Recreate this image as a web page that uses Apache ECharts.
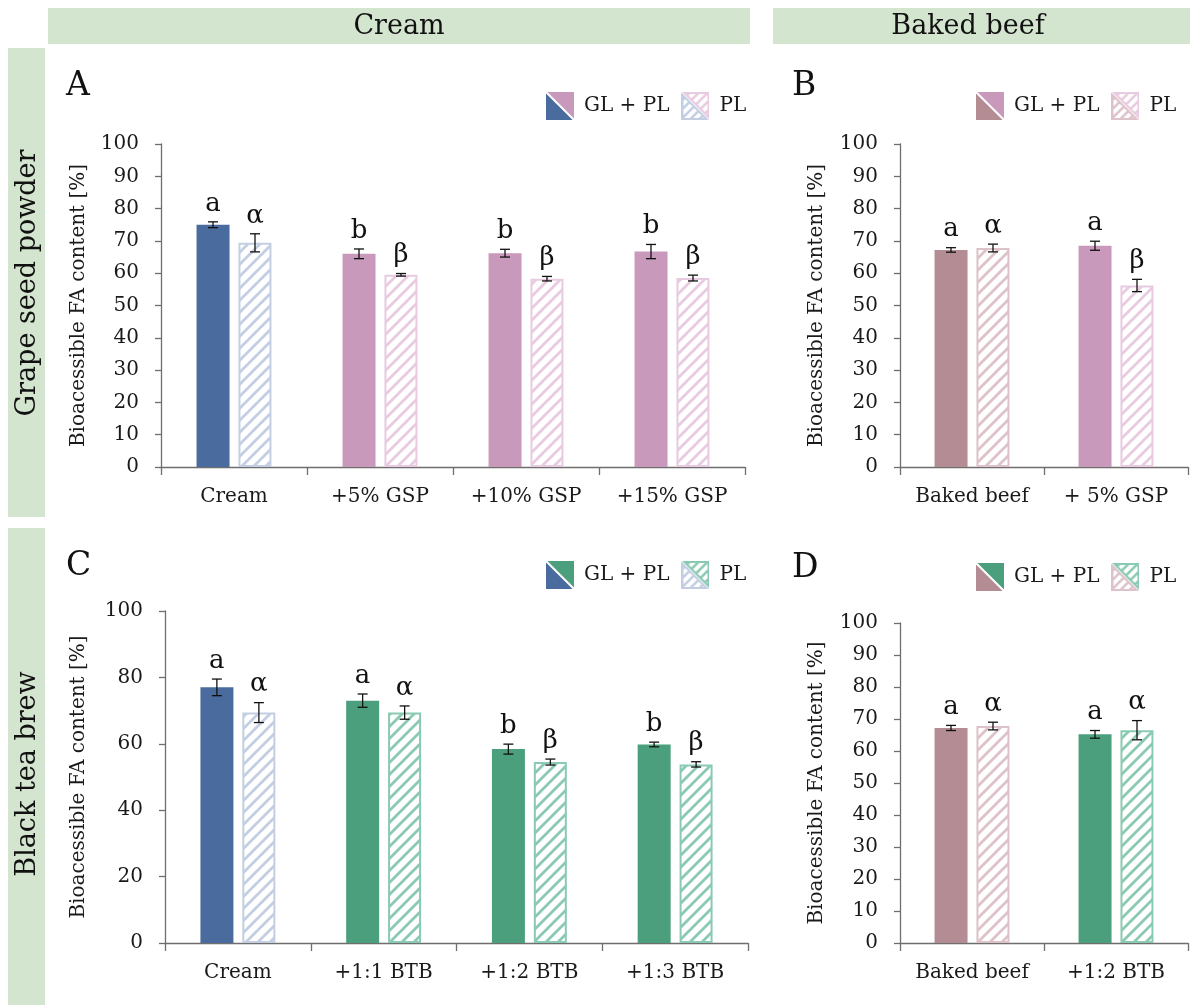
<!DOCTYPE html>
<html><head><meta charset="utf-8">
<script src="https://cdn.jsdelivr.net/npm/echarts@6/dist/echarts.min.js"></script>
<style>html,body{margin:0;padding:0;background:#fff}#c{width:1190px;height:1005px}</style>
</head><body><div id="c"></div>
<script>
// ---------- DATA ----------
const catsA = ['Cream', '+5% GSP', '+10% GSP', '+15% GSP'];
const glA = [75.0, 66.0, 66.2, 66.7];
const glErrA = [0.9, 1.5, 1.2, 2.2];
const plA = [69.4, 59.5, 58.3, 58.5];
const plErrA = [2.8, 0.4, 0.7, 0.9];
const glLetA = ['a', 'b', 'b', 'b'];
const plLetA = ['α', 'β', 'β', 'β'];

const catsB = ['Baked beef', '+ 5% GSP'];
const glB = [67.2, 68.5];
const glErrB = [0.7, 1.4];
const plB = [67.8, 56.2];
const plErrB = [1.2, 1.9];
const glLetB = ['a', 'a'];
const plLetB = ['α', 'β'];

const catsC = ['Cream', '+1:1 BTB', '+1:2 BTB', '+1:3 BTB'];
const glC = [77.0, 73.0, 58.4, 59.8];
const glErrC = [2.5, 2.0, 1.5, 0.7];
const plC = [69.4, 69.4, 54.5, 53.8];
const plErrC = [3.0, 2.0, 0.9, 0.8];
const glLetC = ['a', 'a', 'b', 'b'];
const plLetC = ['α', 'α', 'β', 'β'];

const catsD = ['Baked beef', '+1:2 BTB'];
const glD = [67.2, 65.2];
const glErrD = [0.8, 1.2];
const plD = [67.8, 66.5];
const plErrD = [1.2, 3.0];
const glLetD = ['a', 'a'];
const plLetD = ['α', 'α'];

const yTicksAB = [0, 10, 20, 30, 40, 50, 60, 70, 80, 90, 100];
const yTicksC = [0, 20, 40, 60, 80, 100];

// ---------- STYLE ----------
const FONT = 'DejaVu Serif';
const PAL = {
  blue: ['#4A6B9D', '#C3CEE3'],
  pink: ['#C899BB', '#E8CBE0'],
  mauve: ['#B38C94', '#DDC2C9'],
  green: ['#4C9F7D', '#8ACAB2']
};
const colA = ['blue', 'pink', 'pink', 'pink'];
const colB = ['mauve', 'pink'];
const colC = ['blue', 'green', 'green', 'green'];
const colD = ['mauve', 'green'];

function hatchCanvas(color, size, lw) {
  const s = size || 12, cv = document.createElement('canvas');
  cv.width = s; cv.height = s;
  const g = cv.getContext('2d');
  g.fillStyle = '#fff'; g.fillRect(0, 0, s, s);
  g.strokeStyle = color; g.lineWidth = lw || 2.8;
  g.beginPath();
  g.moveTo(0, s); g.lineTo(s, 0);
  g.moveTo(-s / 2, s / 2); g.lineTo(s / 2, -s / 2);
  g.moveTo(s / 2, s * 1.5); g.lineTo(s * 1.5, s / 2);
  g.stroke();
  return cv;
}
function iconSolid(cBL, cTR) {
  const s = 28, cv = document.createElement('canvas');
  cv.width = s; cv.height = s;
  const g = cv.getContext('2d');
  g.fillStyle = cBL; g.beginPath(); g.moveTo(0, 0); g.lineTo(0, s); g.lineTo(s, s); g.closePath(); g.fill();
  g.fillStyle = cTR; g.beginPath(); g.moveTo(0, 0); g.lineTo(s, 0); g.lineTo(s, s); g.closePath(); g.fill();
  g.strokeStyle = '#fff'; g.lineWidth = 2; g.beginPath(); g.moveTo(0, 0); g.lineTo(s, s); g.stroke();
  return 'image://' + cv.toDataURL();
}
function iconHatch(cBL, cTR) {
  const s = 28, cv = document.createElement('canvas');
  cv.width = s; cv.height = s;
  const g = cv.getContext('2d');
  function tri(pts, c) {
    g.save();
    g.beginPath(); g.moveTo(pts[0][0], pts[0][1]); g.lineTo(pts[1][0], pts[1][1]); g.lineTo(pts[2][0], pts[2][1]); g.closePath();
    g.fillStyle = g.createPattern(hatchCanvas(c, 9, 2.5), 'repeat'); g.fill();
    g.strokeStyle = c; g.lineWidth = 2; g.stroke();
    g.restore();
  }
  tri([[1, 3], [1, s - 1], [s - 3, s - 1]], cBL);
  tri([[3, 1], [s - 1, 1], [s - 1, s - 3]], cTR);
  return 'image://' + cv.toDataURL();
}

const grids = [
  { left: 161, top: 144, width: 584, height: 323 },
  { left: 900, top: 144, width: 288, height: 323 },
  { left: 165, top: 611, width: 583, height: 332 },
  { left: 900, top: 623, width: 288, height: 320 }
];
const panels = [
  { cats: catsA, gl: glA, glE: glErrA, pl: plA, plE: plErrA, gL: glLetA, pL: plLetA, col: colA, ticks: yTicksAB, gap: 72 },
  { cats: catsB, gl: glB, glE: glErrB, pl: plB, plE: plErrB, gL: glLetB, pL: plLetB, col: colB, ticks: yTicksAB, gap: 73 },
  { cats: catsC, gl: glC, glE: glErrC, pl: plC, plE: plErrC, gL: glLetC, pL: plLetC, col: colC, ticks: yTicksC, gap: 76 },
  { cats: catsD, gl: glD, glE: glErrD, pl: plD, plE: plErrD, gL: glLetD, pL: plLetD, col: colD, ticks: yTicksAB, gap: 73 }
];

const BAR_W = 33, OFF = 21;
const xAxes = [], yAxes = [], series = [];
panels.forEach((p, i) => {
  xAxes.push({
    type: 'category', gridIndex: i, data: p.cats, boundaryGap: true,
    axisLine: { lineStyle: { color: '#6e6e6e', width: 1.3 } },
    axisTick: { show: true, length: 8, inside: false, lineStyle: { color: '#6e6e6e', width: 1.3 } },
    axisLabel: { interval: 0, fontFamily: FONT, fontSize: 20, color: '#1a1a1a', margin: 20 }
  });
  const step = p.ticks[1] - p.ticks[0];
  yAxes.push({
    type: 'value', gridIndex: i, min: p.ticks[0], max: p.ticks[p.ticks.length - 1], interval: step,
    name: 'Bioacessible FA content [%]', nameLocation: 'middle', nameGap: p.gap,
    nameTextStyle: { fontFamily: FONT, fontSize: 20, color: '#1a1a1a' },
    splitLine: { show: false },
    axisLine: { show: true, lineStyle: { color: '#6e6e6e', width: 1.3 } },
    axisTick: { show: true, length: 6, lineStyle: { color: '#6e6e6e', width: 1.3 } },
    axisLabel: { fontFamily: FONT, fontSize: 20, color: '#1a1a1a', margin: 22 }
  });
  series.push({
    name: 'GL + PL', type: 'bar', xAxisIndex: i, yAxisIndex: i, barWidth: BAR_W, barGap: '27%',
    data: p.gl.map((v, k) => ({ value: v, itemStyle: { color: PAL[p.col[k]][0] } })),
    silent: true
  });
  series.push({
    name: 'PL', type: 'bar', xAxisIndex: i, yAxisIndex: i, barWidth: BAR_W, barGap: '27%',
    data: p.pl.map((v, k) => ({
      value: v,
      itemStyle: { color: { image: hatchCanvas(PAL[p.col[k]][1]), repeat: 'repeat' }, borderColor: PAL[p.col[k]][1], borderWidth: 2 }
    })),
    silent: true
  });
  [[p.gl, p.glE, p.gL, -OFF], [p.pl, p.plE, p.pL, OFF]].forEach(([vals, errs, lets, off]) => {
    series.push({
      type: 'custom', xAxisIndex: i, yAxisIndex: i, z: 10, silent: true,
      data: vals.map((v, k) => [k, v, errs[k]]),
      encode: { x: 0, y: 1 },
      renderItem: function (params, api) {
        const k = api.value(0), v = api.value(1), e = api.value(2);
        const hi = api.coord([k, v + e]), lo = api.coord([k, v - e]);
        const x = hi[0] + off;
        const st = { stroke: '#111', lineWidth: 1.3 };
        return {
          type: 'group', children: [
            { type: 'line', shape: { x1: x, y1: hi[1], x2: x, y2: lo[1] }, style: st },
            { type: 'line', shape: { x1: x - 5, y1: hi[1], x2: x + 5, y2: hi[1] }, style: st },
            { type: 'line', shape: { x1: x - 5, y1: lo[1], x2: x + 5, y2: lo[1] }, style: st },
            { type: 'text', x: x, y: hi[1] - 5, style: { text: lets[params.dataIndex], font: '26px "' + FONT + '"', fill: '#111', textAlign: 'center', textVerticalAlign: 'bottom' } }
          ]
        };
      }
    });
  });
});

const legends = [
  { left: 546, top: 92, icons: [iconSolid(PAL.blue[0], PAL.pink[0]), iconHatch(PAL.blue[1], PAL.pink[1])] },
  { left: 976, top: 92, icons: [iconSolid(PAL.mauve[0], PAL.pink[0]), iconHatch(PAL.mauve[1], PAL.pink[1])] },
  { left: 546, top: 561, icons: [iconSolid(PAL.blue[0], PAL.green[0]), iconHatch(PAL.blue[1], PAL.green[1])] },
  { left: 976, top: 563, icons: [iconSolid(PAL.mauve[0], PAL.green[0]), iconHatch(PAL.mauve[1], PAL.green[1])] }
].map(l => ({
  left: l.left, top: l.top, width: 400, orient: 'horizontal', itemWidth: 28, itemHeight: 28, itemGap: 12,
  selectedMode: false, padding: 0,
  textStyle: { fontFamily: FONT, fontSize: 20, color: '#1a1a1a', padding: [0, 0, 0, 5] },
  data: [{ name: 'GL + PL', icon: l.icons[0] }, { name: 'PL', icon: l.icons[1] }]
}));

const BAND = '#D4E5CF';
const graphic = [
  { type: 'rect', shape: { x: 48, y: 8, width: 702, height: 36 }, style: { fill: BAND } },
  { type: 'rect', shape: { x: 773, y: 8, width: 420, height: 36 }, style: { fill: BAND } },
  { type: 'rect', shape: { x: 8, y: 48, width: 37, height: 469 }, style: { fill: BAND } },
  { type: 'rect', shape: { x: 8, y: 528, width: 37, height: 480 }, style: { fill: BAND } },
  { type: 'text', x: 399, y: 27, style: { text: 'Cream', font: '27px "' + FONT + '"', fill: '#111', textAlign: 'center', textVerticalAlign: 'middle' } },
  { type: 'text', x: 968, y: 27, style: { text: 'Baked beef', font: '27px "' + FONT + '"', fill: '#111', textAlign: 'center', textVerticalAlign: 'middle' } },
  { type: 'text', x: 28, y: 283, rotation: Math.PI / 2, style: { text: 'Grape seed powder', font: '27px "' + FONT + '"', fill: '#111', textAlign: 'center', textVerticalAlign: 'middle' } },
  { type: 'text', x: 28, y: 774, rotation: Math.PI / 2, style: { text: 'Black tea brew', font: '27px "' + FONT + '"', fill: '#111', textAlign: 'center', textVerticalAlign: 'middle' } },
  { type: 'text', x: 66, y: 86, style: { text: 'A', font: '33px "' + FONT + '"', fill: '#111', textVerticalAlign: 'middle' } },
  { type: 'text', x: 792, y: 86, style: { text: 'B', font: '33px "' + FONT + '"', fill: '#111', textVerticalAlign: 'middle' } },
  { type: 'text', x: 66, y: 566, style: { text: 'C', font: '33px "' + FONT + '"', fill: '#111', textVerticalAlign: 'middle' } },
  { type: 'text', x: 792, y: 568, style: { text: 'D', font: '33px "' + FONT + '"', fill: '#111', textVerticalAlign: 'middle' } }
];

const chart = echarts.init(document.getElementById('c'), null, { renderer: 'canvas' });
chart.setOption({
  animation: false,
  backgroundColor: '#fff',
  grid: grids,
  xAxis: xAxes,
  yAxis: yAxes,
  legend: legends,
  graphic: graphic,
  series: series
});
</script></body></html>
